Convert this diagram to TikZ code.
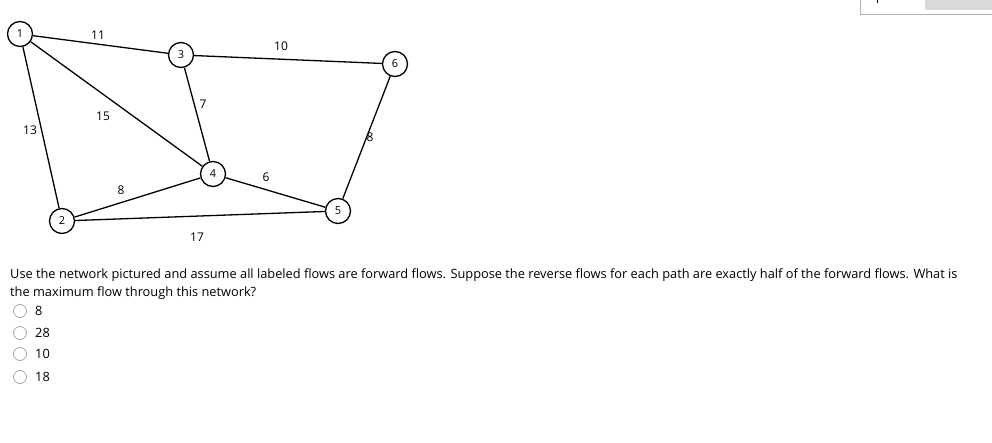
\documentclass[tikz,border=0pt]{standalone}
\usepackage{fontspec}
\setmainfont{Open Sans}
\begin{document}
\begin{tikzpicture}[x=1pt,y=-1pt,
  vert/.style={circle,draw,line width=1.3pt,minimum size=25pt,inner sep=0pt,fill=white,font=\fontsize{11}{12}\selectfont},
  edge/.style={line width=1.3pt},
  lbl/.style={font=\fontsize{12}{14}\selectfont},
  opt/.style={circle,draw=gray!70,line width=0.8pt,minimum size=13pt,inner sep=0pt},
  txt/.style={font=\fontsize{12.8}{15}\selectfont,anchor=west,inner sep=0pt}]
\useasboundingbox (0,0) rectangle (992,443);
\fill[gray!30] (925,0) rectangle (992,10);
\draw[gray!60] (860,0) -- (860,14) -- (992,14);
\draw (877,0) -- (877,3);
\node[vert] (n1) at (20,34) {1};
\node[vert] (n3) at (181,55) {3};
\node[vert] (n6) at (395,64) {6};
\node[vert] (n4) at (213,174) {4};
\node[vert] (n5) at (338,211) {5};
\node[vert] (n2) at (62,221) {2};
\draw[edge] (n1)--(n3); \draw[edge] (n1)--(n4); \draw[edge] (n1)--(n2);
\draw[edge] (n3)--(n6); \draw[edge] (n3)--(n4); \draw[edge] (n6)--(n5);
\draw[edge] (n4)--(n5); \draw[edge] (n2)--(n4); \draw[edge] (n2)--(n5);
\node[lbl] (l11) at (98,35) {11};
\node[lbl] (l10) at (281,46) {10};
\node[lbl] (l7) at (203,104) {7};
\node[lbl] (l15) at (103,116) {15};
\node[lbl] (l13) at (30,130) {13};
\node[lbl] (l8a) at (370,137) {8};
\node[lbl] (l8b) at (121,190) {8};
\node[lbl] (l6) at (266,177) {6};
\node[lbl] (l17) at (197,237) {17};
\node[txt] (q1) at (10,275) {Use the network pictured and assume all labeled flows are forward flows. Suppose the reverse flows for each path are exactly half of the forward flows. What is};
\node[txt] (q2) at (10,293) {the maximum flow through this network?};
\foreach \y/\t [count=\i] in {311/8,333/28,354/10,377/18}{
  \node[opt] (o\i) at (20,\y) {};
  \node[txt] (t\i) at (35,\y) {\t};
}
\end{tikzpicture}
\end{document}
